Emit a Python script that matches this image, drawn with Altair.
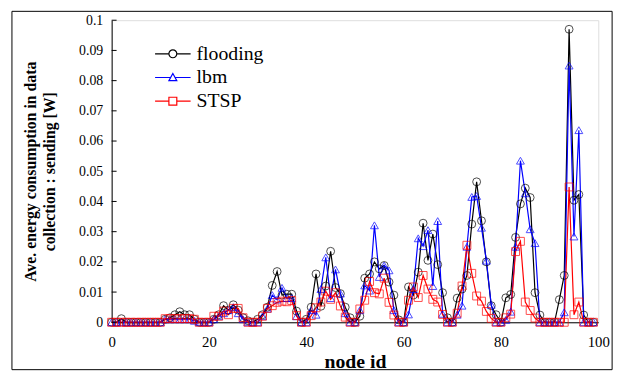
import altair as alt
import pandas as pd

node_ids = list(range(100))

flooding = [
    0, 0, 0.0012, 0, 0, 0, 0, 0, 0, 0,
    0, 0.001, 0.0015, 0.0025, 0.0035, 0.0025, 0.0025, 0.001, 0, 0,
    0, 0.001, 0.0025, 0.0055, 0.004, 0.0058, 0.004, 0.0015, 0.0005, 0,
    0.001, 0.0025, 0.005, 0.0122, 0.0168, 0.009, 0.0093, 0.0093, 0.0037, 0,
    0.001, 0.005, 0.016, 0.0053, 0.012, 0.0235, 0.0115, 0.0095, 0.005, 0.0015,
    0, 0.002, 0.0146, 0.016, 0.020, 0.0177, 0.0188, 0.0133, 0.009, 0.0008,
    0, 0.0117, 0.009, 0.0166, 0.0328, 0.0205, 0.0292, 0.0191, 0.0098, 0.0015,
    0, 0.008, 0.011, 0.0155, 0.0325, 0.0465, 0.0336, 0.020, 0.0055, 0.0025,
    0, 0.0081, 0.0092, 0.0281, 0.0392, 0.0444, 0.0413, 0.0098, 0.0024, 0,
    0, 0, 0.0075, 0.0155, 0.097, 0.0404, 0.0423, 0.0024, 0, 0,
]

lbm = [
    0, 0, 0, 0, 0, 0, 0, 0, 0, 0,
    0, 0.001, 0.001, 0.001, 0.001, 0.001, 0.001, 0.0005, 0, 0,
    0, 0.001, 0.002, 0.003, 0.004, 0.005, 0.003, 0.001, 0, 0,
    0, 0.002, 0.0045, 0.009, 0.0075, 0.0114, 0.008, 0.008, 0.002, 0,
    0, 0.004, 0.0025, 0.011, 0.0215, 0.008, 0.0175, 0.0095, 0.003, 0,
    0, 0.004, 0.0122, 0.0105, 0.0321, 0.015, 0.0188, 0.0172, 0.004, 0,
    0, 0.0026, 0.011, 0.0278, 0.0252, 0.0305, 0.012, 0.0335, 0.0028, 0,
    0, 0.0025, 0.0055, 0.025, 0.0415, 0.0418, 0.0313, 0.0204, 0.0058, 0,
    0, 0.0008, 0.0035, 0.025, 0.0535, 0.0427, 0.0308, 0.0262, 0, 0,
    0, 0, 0, 0.0033, 0.085, 0.0284, 0.0636, 0, 0, 0,
]

stsp = [
    0, 0, 0, 0, 0, 0, 0, 0, 0, 0,
    0, 0.0012, 0.0012, 0.0012, 0.0012, 0.0012, 0.0012, 0.001, 0, 0,
    0, 0.002, 0.002, 0.0037, 0.0025, 0.0046, 0.0046, 0.0015, 0, 0,
    0, 0.002, 0.0046, 0.0055, 0.0066, 0.007, 0.0068, 0.0072, 0.0022, 0,
    0, 0.0022, 0.0048, 0.0067, 0.0103, 0.0076, 0.0098, 0.0054, 0.0017, 0,
    0, 0.0044, 0.0073, 0.0135, 0.0098, 0.0094, 0.0146, 0.0066, 0.0024, 0,
    0, 0.0073, 0.0117, 0.0082, 0.0155, 0.011, 0.0076, 0.0067, 0.0026, 0,
    0, 0.003, 0.012, 0.0255, 0.0162, 0.0087, 0.007, 0.0036, 0.0013, 0,
    0, 0.0015, 0.0027, 0.0234, 0.0268, 0.0067, 0.0039, 0.0014, 0, 0,
    0, 0, 0, 0, 0.0448, 0.0025, 0.0067, 0, 0, 0,
]

series_names = ["flooding", "lbm", "STSP"]
series_colors = ["#000000", "#0000ff", "#ff0000"]
series_shapes = ["circle", "triangle-up", "square"]
legend_paths = [
    "M-4.5,0H-1M1,0H4.5M1,0A1,1,0,1,1,-1,0A1,1,0,1,1,1,0",
    "M-4.5,0H-0.55M0.55,0H4.5M0,-1L1,0.8L-1,0.8Z",
    "M-4.5,0H-1M1,0H4.5M-1,-1H1V1H-1Z",
]
x_ticks = [0, 20, 40, 60, 80, 100]
y_ticks = [0, 0.01, 0.02, 0.03, 0.04, 0.05, 0.06, 0.07, 0.08, 0.09, 0.1]

rows = []
for name, vals in zip(series_names, [flooding, lbm, stsp]):
    for n, v in zip(node_ids, vals):
        rows.append({"node": n, "value": v, "series": name})
df = pd.DataFrame(rows)

FONT = "Liberation Serif"
W, H = 493, 306

yscale = alt.Scale(domain=[0, 0.1], nice=False)

xenc = alt.X(
    "node:Q",
    scale=alt.Scale(domain=[0, 100], nice=False),
    axis=alt.Axis(
        values=x_ticks, format="d", title="node id", grid=False, ticks=False,
        labelFlush=False, labelOverlap=False,
        labelPadding=13, labelFont=FONT, labelFontSize=15, labelColor="black",
        titleFont=FONT, titleFontSize=20, titleFontWeight="bold", titleColor="black",
        titlePadding=2, domainColor="black",
    ),
)
yenc = alt.Y(
    "value:Q",
    scale=yscale,
    axis=alt.Axis(
        values=y_ticks, format="~g", grid=False, ticks=False,
        labelFlush=False, labelOverlap=False,
        title=["Ave. energy consumption in data", "collection : sending [W]"],
        labelPadding=9, labelFont=FONT, labelFontSize=14, labelColor="black",
        titleFont=FONT, titleFontSize=16, titleFontWeight="bold", titleColor="black",
        titlePadding=21, titleLineHeight=20, domainColor="black",
    ),
)

color_scale = alt.Scale(domain=series_names, range=series_colors)

lines = alt.Chart(df).mark_line(strokeWidth=1.2).encode(
    x=xenc, y=yenc,
    color=alt.Color("series:N", scale=color_scale, legend=None),
    order="node:Q",
)

points = alt.Chart(df).mark_point(filled=False, size=64, strokeWidth=1).encode(
    x=xenc, y=yenc,
    color=alt.Color("series:N", scale=color_scale, legend=None),
    shape=alt.Shape("series:N", scale=alt.Scale(domain=series_names, range=series_shapes), legend=None),
)

legend_props = dict(
    orient="none", legendX=52, legendY=24, title=None, padding=0,
    labelFont=FONT, labelFontSize=20, labelColor="black", labelOffset=14,
    symbolSize=64, symbolStrokeWidth=1.2, symbolOpacity=1, rowPadding=4,
    symbolFillColor="transparent",
)

legend_df = pd.DataFrame({"lseries": series_names})
legend_layer = alt.Chart(legend_df).mark_point(filled=False, opacity=0).encode(
    x=alt.value(0), y=alt.value(0),
    color=alt.Color(
        "lseries:N", scale=alt.Scale(domain=series_names, range=series_colors),
        legend=alt.Legend(**legend_props),
    ),
    shape=alt.Shape(
        "lseries:N", scale=alt.Scale(domain=series_names, range=legend_paths),
        legend=alt.Legend(**legend_props),
    ),
)

tick_df = pd.DataFrame({"value": y_ticks})
yticks = alt.Chart(tick_df).mark_rule(color="black", strokeWidth=1).encode(
    x=alt.value(0), x2=alt.value(5), y=yenc,
)

frame = alt.Chart(pd.DataFrame({"a": [0]})).mark_rect(
    fill="transparent", stroke="black", strokeWidth=1
).encode(
    x=alt.value(-101), x2=alt.value(507), y=alt.value(-9), y2=alt.value(354),
)

chart = alt.layer(lines, points, yticks, legend_layer, frame).resolve_scale(
    shape="independent", color="independent"
).properties(
    width=W, height=H,
    autosize=alt.AutoSizeParams(type="none"),
    padding={"left": 105, "top": 10, "right": 23, "bottom": 49},
).configure_view(
    stroke="black", strokeWidth=1.2
).configure(background="white")

chart.save("out.html", embed_options={"renderer": "svg", "actions": False})
